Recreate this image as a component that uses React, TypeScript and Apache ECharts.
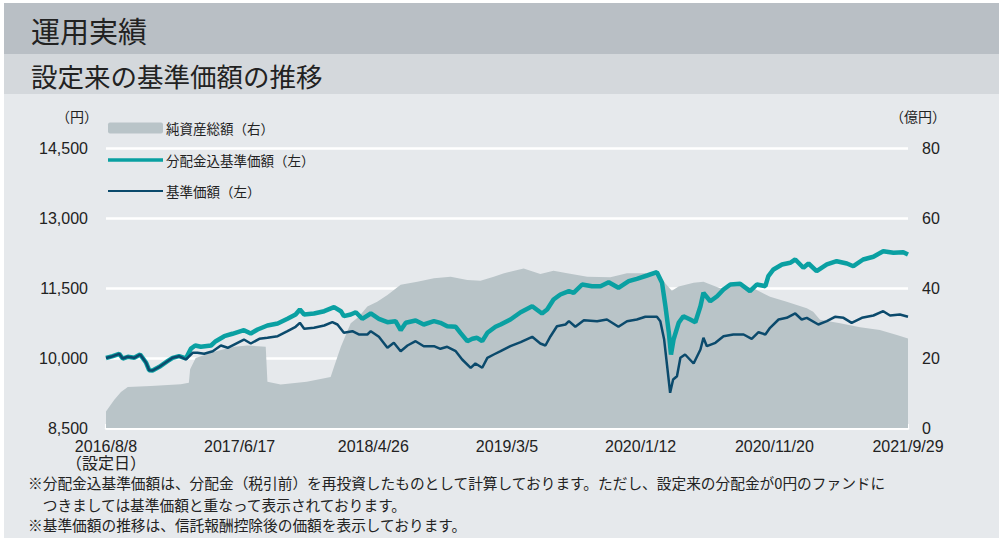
import React, { useEffect, useRef } from "react";
import * as echarts from "echarts";

// ---- data ----
const TICK_DAYS = 313; // days between x-axis ticks
const LAST_DAY = 1878; // 2016/8/8 -> 2021/9/29
const xTickLabels = [
  "2016/8/8\n（設定日）",
  "2017/6/17",
  "2018/4/26",
  "2019/3/5",
  "2020/1/12",
  "2020/11/20",
  "2021/9/29",
];
const leftTicks = [8500, 14500, 1500];
const rightTicks = [0, 80, 20];

const seriesNames = ["純資産総額（右）", "分配金込基準価額（左）", "基準価額（左）"];
const seriesColors = ["#b9c4c8", "#0aa0a2", "#0b4a6c"];

// 基準価額 (yen): day offset from 2016/8/8, value
const navDays = [0, 16, 31, 39, 51, 66, 80, 94, 101, 109, 125, 144, 156, 171, 187, 203, 214, 230, 250, 269, 285, 300, 323, 339, 359, 378, 402, 425, 444, 454, 464, 487, 511, 530, 542, 557, 577, 592, 612, 620, 639, 659, 674, 690, 706, 725, 744, 768, 783, 799, 819, 834, 854, 865, 881, 893, 908, 924, 947, 971, 998, 1017, 1029, 1041, 1056, 1076, 1084, 1099, 1119, 1150, 1173, 1200, 1220, 1243, 1263, 1290, 1298, 1307, 1314, 1321, 1328, 1337, 1345, 1356, 1376, 1392, 1399, 1407, 1427, 1446, 1469, 1493, 1512, 1528, 1544, 1555, 1575, 1594, 1614, 1629, 1641, 1668, 1688, 1707, 1727, 1746, 1770, 1797, 1820, 1836, 1859, 1878];
const navValues = [10000, 10039, 10090, 9989, 10026, 10004, 10075, 9897, 9739, 9732, 9811, 9931, 10004, 10039, 9968, 10111, 10111, 10090, 10146, 10268, 10219, 10289, 10396, 10311, 10411, 10433, 10467, 10574, 10669, 10754, 10626, 10647, 10696, 10767, 10718, 10540, 10574, 10504, 10504, 10574, 10454, 10219, 10326, 10146, 10268, 10360, 10253, 10253, 10197, 10240, 10146, 9968, 9790, 9882, 9790, 10004, 10075, 10146, 10253, 10339, 10454, 10311, 10268, 10467, 10681, 10718, 10789, 10669, 10810, 10789, 10825, 10669, 10789, 10825, 10883, 10883, 10789, 10396, 9824, 9254, 9539, 9610, 10004, 10075, 9882, 10182, 10433, 10253, 10326, 10467, 10504, 10504, 10411, 10553, 10504, 10647, 10825, 10861, 10954, 10825, 10861, 10718, 10789, 10883, 10861, 10754, 10861, 10911, 11003, 10911, 10932, 10883];

// 分配金込基準価額 (yen)
const tnavDays = [0, 16, 31, 39, 51, 66, 80, 94, 101, 109, 125, 144, 156, 171, 187, 199, 209, 222, 246, 257, 277, 296, 323, 339, 355, 378, 402, 425, 444, 454, 464, 487, 511, 534, 550, 557, 573, 585, 600, 620, 639, 659, 678, 690, 702, 725, 744, 768, 783, 799, 819, 830, 846, 858, 869, 881, 893, 912, 924, 947, 971, 998, 1021, 1033, 1048, 1064, 1084, 1095, 1115, 1138, 1158, 1177, 1200, 1224, 1243, 1267, 1290, 1302, 1310, 1318, 1323, 1329, 1341, 1352, 1368, 1380, 1392, 1399, 1415, 1431, 1446, 1462, 1485, 1508, 1524, 1544, 1551, 1563, 1583, 1602, 1614, 1633, 1645, 1664, 1688, 1711, 1735, 1750, 1773, 1797, 1820, 1844, 1867, 1878];
const tnavValues = [10000, 10039, 10090, 9989, 10026, 10004, 10075, 9897, 9739, 9732, 9811, 9931, 10004, 10039, 9990, 10200, 10268, 10240, 10268, 10360, 10467, 10519, 10596, 10525, 10611, 10696, 10739, 10840, 10932, 11039, 10932, 10954, 11003, 11089, 11003, 10896, 10932, 10981, 10840, 10954, 10840, 10767, 10789, 10596, 10754, 10804, 10718, 10789, 10754, 10681, 10669, 10540, 10360, 10411, 10433, 10360, 10540, 10669, 10718, 10825, 10981, 11110, 10954, 11039, 11253, 11361, 11432, 11397, 11575, 11539, 11539, 11624, 11504, 11646, 11697, 11768, 11839, 11612, 11110, 10540, 10075, 10396, 10754, 10896, 10825, 10767, 11110, 11397, 11217, 11324, 11468, 11575, 11590, 11432, 11575, 11539, 11753, 11897, 12004, 12040, 12111, 11933, 12025, 11860, 12004, 12074, 12025, 11967, 12111, 12169, 12289, 12254, 12267, 12218];

// 純資産総額 (億円)
const assetDays = [0, 19, 35, 51, 105, 175, 194, 197, 210, 253, 300, 331, 374, 378, 409, 470, 526, 534, 550, 573, 592, 612, 635, 659, 690, 729, 768, 807, 846, 877, 908, 932, 978, 1017, 1048, 1080, 1127, 1181, 1220, 1267, 1290, 1310, 1325, 1341, 1376, 1399, 1438, 1477, 1516, 1555, 1594, 1641, 1656, 1672, 1719, 1766, 1812, 1852, 1878];
const assetValues = [4.7, 8.0, 10.3, 11.7, 12.0, 12.5, 12.9, 16.8, 20.0, 21.8, 23.2, 23.6, 23.2, 13.2, 12.4, 13.2, 14.6, 17.5, 23.2, 29.9, 31.8, 34.7, 36.1, 38.0, 40.9, 41.8, 42.8, 43.2, 42.3, 42.1, 43.2, 44.2, 45.6, 44.0, 44.9, 44.2, 43.2, 43.1, 44.2, 44.2, 44.7, 41.3, 39.2, 40.4, 41.5, 41.8, 39.9, 40.9, 39.9, 37.5, 36.1, 34.2, 33.2, 30.9, 29.9, 28.8, 28.0, 26.6, 25.6];

const titleMain = "運用実績";
const titleSub = "設定来の基準価額の推移";
const notes = [
  "※分配金込基準価額は、分配金（税引前）を再投資したものとして計算しております。ただし、設定来の分配金が0円のファンドに",
  "　つきましては基準価額と重なって表示されております。",
  "※基準価額の推移は、信託報酬控除後の価額を表示しております。",
];

const pairs = (d: number[], v: number[]) => d.map((x, i) => [x, v[i]]);

const JP = "'Noto Sans CJK JP', sans-serif";
const NUM = "'Liberation Sans', Arial, 'Noto Sans CJK JP', sans-serif";
const TXT = "#222222";
const LINE_W = [0, 4.5, 2.5];

export default function App() {
  const ref = useRef<HTMLDivElement>(null);
  useEffect(() => {
    if (!ref.current) return;
    const chart = echarts.init(ref.current, null, { renderer: "svg" });
    const legendY = [128, 160, 191];
    const legendGraphic: any[] = [
      { type: "rect", shape: { x: 108, y: legendY[0] - 5.5, width: 55, height: 11, r: 2 }, style: { fill: seriesColors[0] } },
      { type: "line", shape: { x1: 108, y1: legendY[1], x2: 163, y2: legendY[1] }, style: { stroke: seriesColors[1], lineWidth: 3.5 } },
      { type: "line", shape: { x1: 108, y1: legendY[2], x2: 163, y2: legendY[2] }, style: { stroke: seriesColors[2], lineWidth: 2.2 } },
      ...seriesNames.map((n, i) => ({
        type: "text",
        x: 166,
        y: legendY[i],
        style: { text: n, font: `13.5px ${JP}`, fill: TXT, textVerticalAlign: "middle" },
      })),
    ];
    chart.setOption({
      animation: false,
      backgroundColor: "#ffffff",
      graphic: [
        { type: "rect", z: -10, shape: { x: 4, y: 3, width: 995, height: 51 }, style: { fill: "#b9bfc5" } },
        { type: "rect", z: -10, shape: { x: 4, y: 54, width: 995, height: 40 }, style: { fill: "#d4d8dc" } },
        { type: "rect", z: -10, shape: { x: 4, y: 94, width: 995, height: 444 }, style: { fill: "#e6e9ec" } },
        { type: "text", x: 31, y: 30, style: { text: titleMain, font: `29px ${JP}`, fill: TXT, textVerticalAlign: "middle" } },
        { type: "text", x: 31, y: 75, style: { text: titleSub, font: `26.5px ${JP}`, fill: TXT, textVerticalAlign: "middle" } },
        { type: "text", x: 77, y: 116, style: { text: "（円）", font: `14px ${JP}`, fill: TXT, textAlign: "center", textVerticalAlign: "middle" } },
        { type: "text", x: 918, y: 116, style: { text: "（億円）", font: `14px ${JP}`, fill: TXT, textAlign: "center", textVerticalAlign: "middle" } },
        ...notes.map((t, i) => ({
          type: "text",
          x: 28,
          y: [482, 504, 524][i],
          style: { text: t, font: `14.7px ${JP}`, fill: TXT, textVerticalAlign: "middle" },
        })),
        ...legendGraphic,
      ],
      grid: { left: 106, right: 95, top: 148, bottom: 110 },
      xAxis: {
        type: "value",
        min: 0,
        max: LAST_DAY,
        interval: TICK_DAYS,
        axisLine: { show: true, lineStyle: { color: "#ffffff", width: 2.5 } },
        axisTick: { show: true, inside: true, length: 4, lineStyle: { color: "#ffffff", width: 2 } },
        splitLine: { show: false },
        axisLabel: {
          margin: 10,
          fontFamily: NUM,
          fontSize: 16,
          color: TXT,
          lineHeight: 17,
          formatter: (v: number) => xTickLabels[Math.round(v / TICK_DAYS)] ?? "",
        },
      },
      yAxis: [
        {
          type: "value",
          min: leftTicks[0],
          max: leftTicks[1],
          interval: leftTicks[2],
          axisLine: { show: false },
          axisTick: { show: false },
          splitLine: { show: true, lineStyle: { color: "#ffffff", width: 2.5 } },
          axisLabel: {
            margin: 18,
            fontFamily: NUM,
            fontSize: 16,
            color: TXT,
            formatter: (v: number) => v.toLocaleString("en-US"),
          },
        },
        {
          type: "value",
          min: rightTicks[0],
          max: rightTicks[1],
          interval: rightTicks[2],
          axisLine: { show: false },
          axisTick: { show: false },
          splitLine: { show: false },
          axisLabel: { margin: 14, fontFamily: NUM, fontSize: 16, color: TXT },
        },
      ],
      series: [
        {
          name: seriesNames[0],
          type: "line",
          yAxisIndex: 1,
          data: pairs(assetDays, assetValues),
          symbol: "none",
          color: seriesColors[0],
          lineStyle: { width: 0, color: seriesColors[0] },
          areaStyle: { color: seriesColors[0], opacity: 1 },
          z: 1,
        },
        {
          name: seriesNames[1],
          type: "line",
          yAxisIndex: 0,
          data: pairs(tnavDays, tnavValues),
          symbol: "none",
          color: seriesColors[1],
          lineStyle: { width: LINE_W[1], color: seriesColors[1] },
          z: 3,
        },
        {
          name: seriesNames[2],
          type: "line",
          yAxisIndex: 0,
          data: pairs(navDays, navValues),
          symbol: "none",
          color: seriesColors[2],
          lineStyle: { width: LINE_W[2], color: seriesColors[2] },
          z: 4,
        },
      ],
    });
    return () => chart.dispose();
  }, []);
  return (
    <div style={{ position: "absolute", left: 0, top: 0, width: 1003, height: 538 }}>
      <div ref={ref} style={{ width: 1003, height: 538 }} />
    </div>
  );
}
